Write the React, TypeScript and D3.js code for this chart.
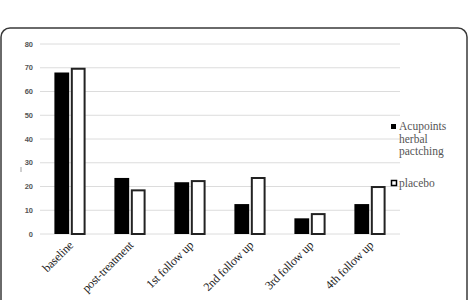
import React, { useEffect, useRef } from "react";
import * as d3 from "d3";

// chart data
const categories = [
  "baseline",
  "post-treatment",
  "1st follow up",
  "2nd follow up",
  "3rd follow up",
  "4th follow up",
];
const acupoints = [68, 23.6, 21.8, 12.6, 6.6, 12.6];
const placebo = [70, 18.8, 22.7, 24, 8.8, 20.2];
const seriesNames = ["Acupoints herbal pactching", "placebo"];
const yTicks = [0, 10, 20, 30, 40, 50, 60, 70, 80];

const App: React.FC = () => {
  const svgRef = useRef<SVGSVGElement | null>(null);
  const width = 469;
  const height = 300;

  useEffect(() => {
    const svg = d3.select(svgRef.current);
    svg.selectAll("*").remove();

    // outer frame
    svg
      .append("rect")
      .attr("x", 1)
      .attr("y", 28)
      .attr("width", 466)
      .attr("height", 300)
      .attr("rx", 9)
      .attr("fill", "#fff")
      .attr("stroke", "#3a3a3a")
      .attr("stroke-width", 1.5);

    const left = 40;
    const right = 400;
    const x0 = d3
      .scaleBand()
      .domain(categories)
      .range([left, right])
      .paddingInner(0.48)
      .paddingOuter(0.24);
    const x1 = d3
      .scaleBand()
      .domain(seriesNames)
      .range([0, x0.bandwidth()])
      .paddingInner(0.1);
    const y = d3.scaleLinear().domain([0, 80]).range([234, 44]);

    // gridlines
    svg
      .append("g")
      .selectAll("line")
      .data(yTicks)
      .enter()
      .append("line")
      .attr("x1", left)
      .attr("x2", right)
      .attr("y1", (d) => y(d))
      .attr("y2", (d) => y(d))
      .attr("stroke", "#dcdcdc")
      .attr("stroke-width", 1);

    // y tick labels
    svg
      .append("g")
      .selectAll("text")
      .data(yTicks)
      .enter()
      .append("text")
      .attr("x", 33)
      .attr("y", (d) => y(d) + 2.7)
      .attr("text-anchor", "end")
      .attr("font-family", "Arial, 'Liberation Sans', sans-serif")
      .attr("font-weight", "bold")
      .attr("font-size", 7.5)
      .attr("fill", "#555")
      .text((d) => d);

    // small mark left of axis
    svg
      .append("line")
      .attr("x1", 21)
      .attr("x2", 21)
      .attr("y1", 167)
      .attr("y2", 172)
      .attr("stroke", "#888")
      .attr("stroke-width", 0.8);

    const rows = categories.map((c, i) => ({
      cat: c,
      vals: [acupoints[i], placebo[i]],
    }));

    const groups = svg
      .append("g")
      .selectAll("g")
      .data(rows)
      .enter()
      .append("g")
      .attr("transform", (d) => `translate(${x0(d.cat)},0)`);

    groups
      .selectAll("rect")
      .data((d) => d.vals.map((v, j) => ({ v, name: seriesNames[j], j })))
      .enter()
      .append("rect")
      .attr("x", (d) => x1(d.name)! + (d.j === 1 ? 1 : 0))
      .attr("y", (d) => y(d.v) + (d.j === 1 ? 1 : 0))
      .attr("width", (d) => x1.bandwidth() - (d.j === 1 ? 2 : 0))
      .attr("height", (d) => y(0) - y(d.v) - (d.j === 1 ? 1 : 0))
      .attr("fill", (d) => (d.j === 0 ? "#000" : "#fff"))
      .attr("stroke", (d) => (d.j === 0 ? "none" : "#222"))
      .attr("stroke-width", 2);

    // x labels, rotated
    svg
      .append("g")
      .selectAll("text")
      .data(categories)
      .enter()
      .append("text")
      .attr(
        "transform",
        (d) => `translate(${x0(d)! + x0.bandwidth() / 2 + 4},246) rotate(-45)`
      )
      .attr("text-anchor", "end")
      .attr("font-family", "'Liberation Serif', 'Times New Roman', serif")
      .attr("font-size", 12)
      .attr("letter-spacing", -0.2)
      .attr("fill", "#222")
      .text((d) => d);

    // legend
    const legend = svg.append("g");
    legend
      .append("rect")
      .attr("x", 391)
      .attr("y", 124)
      .attr("width", 5)
      .attr("height", 5)
      .attr("fill", "#000");
    const lt = legend
      .append("text")
      .attr("font-family", "'Liberation Serif', 'Times New Roman', serif")
      .attr("font-size", 11.5)
      .attr("fill", "#555");
    ["Acupoints", "herbal", "pactching"].forEach((w, i) => {
      lt.append("tspan")
        .attr("x", 399)
        .attr("y", 130 + i * 12.5)
        .text(w);
    });
    legend
      .append("rect")
      .attr("x", 391.5)
      .attr("y", 180.5)
      .attr("width", 5)
      .attr("height", 5)
      .attr("fill", "#fff")
      .attr("stroke", "#000")
      .attr("stroke-width", 1.5);
    legend
      .append("text")
      .attr("x", 399)
      .attr("y", 187)
      .attr("font-family", "'Liberation Serif', 'Times New Roman', serif")
      .attr("font-size", 11.5)
      .attr("fill", "#555")
      .text(seriesNames[1]);
  }, []);

  return (
    <svg
      ref={svgRef}
      width={width}
      height={height}
      style={{ position: "absolute", left: 0, top: 0, background: "#fff" }}
    />
  );
};

export default App;
